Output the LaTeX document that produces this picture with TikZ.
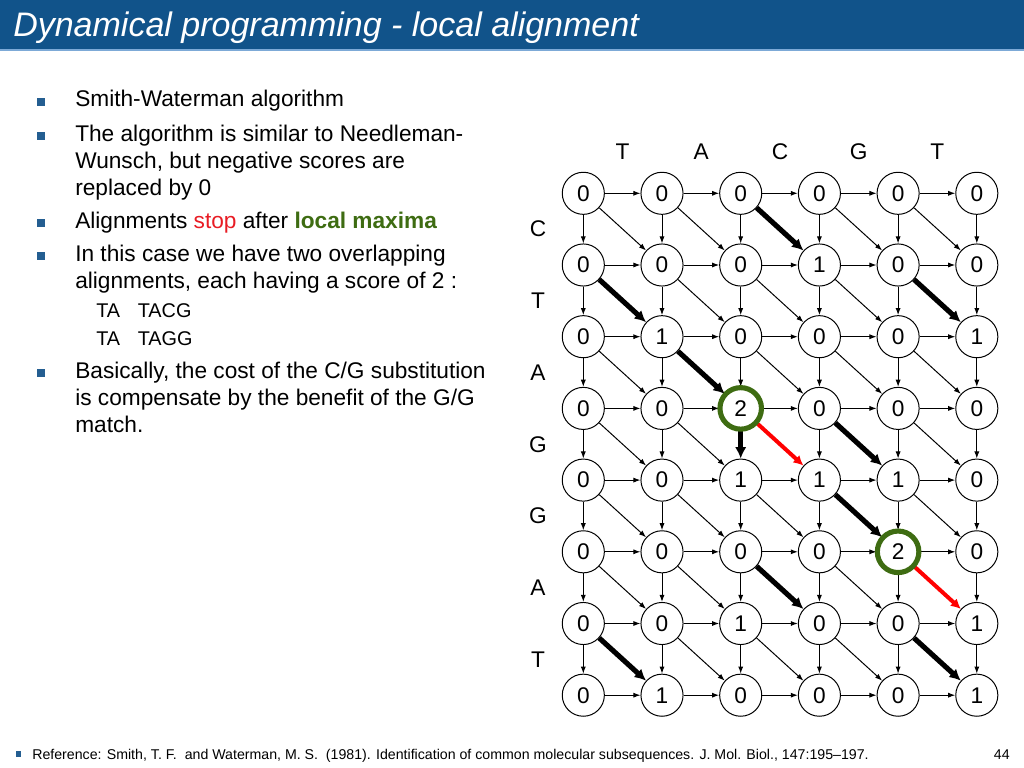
\documentclass[tikz,border=0pt]{standalone}
\usepackage{fontspec}
\setmainfont{Liberation Sans}
\usetikzlibrary{arrows.meta}
\definecolor{TitleClr}{RGB}{17,83,138}
\definecolor{RuleClr}{RGB}{125,170,215}
\definecolor{BulletClr}{RGB}{36,94,145}
\definecolor{StopClr}{RGB}{232,28,36}
\definecolor{MaxClr}{RGB}{62,108,18}

\tikzset{
  cell/.style={circle,draw,line width=.7pt,minimum size=29.6bp,inner sep=0pt,font=\fontsize{16}{16}\selectfont},
  link/.style={line width=.7pt,-{Latex[length=5bp,width=3.6bp]}},
  trace/.style={line width=3.6bp,-{Latex[length=8bp,width=8bp]}},
  stoparr/.style={line width=2.8bp,red,-{Latex[length=7bp,width=7bp]}},
  maxring/.style={draw=MaxClr,line width=3.6bp},
  bullet/.style={fill=BulletClr,minimum size=5.6bp,inner sep=0pt},
  txt/.style={anchor=base west,inner sep=0pt,align=left,font=\fontsize{16}{19}\selectfont},
  seq/.style={font=\fontsize{16}{16}\selectfont},
  % moves on the trace-back paths
  diag 02/.style=trace, diag 10/.style=trace, diag 14/.style=trace,
  diag 21/.style=trace, diag 33/.style=trace, diag 43/.style=trace,
  diag 52/.style=trace, diag 60/.style=trace, diag 64/.style=trace,
  diag 32/.style=stoparr, diag 54/.style=stoparr,
  down 32/.style=trace,
}

\begin{document}
\begin{tikzpicture}[x=0.703125bp,y=-0.703125bp]
\useasboundingbox (0,0) rectangle (1024,768);

% title bar
\fill[TitleClr] (0,0) rectangle (1024,49);
\draw[RuleClr,line width=1.2bp] (0,50) -- (1024,50);
\node[anchor=base west,inner sep=0pt,text=white,font=\fontsize{24}{24}\selectfont\itshape] (title) at (13,37) {Dynamical programming - local alignment};

% bullet list (multi-line nodes sit on their last baseline)
\foreach \y in {102,136,223,256,373} \node[bullet] (b\y) at (41,\y) {};
\node[txt] (i1) at (75,107) {Smith-Waterman algorithm};
\node[txt] (i2) at (75,195) {The algorithm is similar to Needleman-\\Wunsch, but negative scores are\\replaced by 0};
\node[txt] (i3) at (75,228) {Alignments \textcolor{StopClr}{stop} after \textcolor{MaxClr}{\bfseries local maxima}};
\node[txt] (i4) at (75,288) {In this case we have two overlapping\\alignments, each having a score of 2 :};
\node[txt,font=\fontsize{14}{14}\selectfont] (a1) at (96,317) {TA\hspace{12.4bp}TACG};
\node[txt,font=\fontsize{14}{14}\selectfont] (a2) at (96,345) {TA\hspace{12.4bp}TAGG};
\node[txt] (i5) at (75,432) {Basically, the cost of the C/G substitution\\is compensate by the benefit of the G/G\\match.};

% score matrix
\foreach \row [count=\i from 0] in {{0,0,0,0,0,0},{0,0,0,1,0,0},{0,1,0,0,0,1},{0,0,2,0,0,0},{0,0,1,1,1,0},{0,0,0,0,2,0},{0,0,1,0,0,1},{0,1,0,0,0,1}}
  \foreach \val [count=\k from 0] in \row
    \node[cell] (n\i\k) at ({583.3+78.7*\k},{193.3+71.7*\i}) {\val};
\foreach \base [count=\k from 0] in {T,A,C,G,T}
  \node[seq] (top\k) at ({622.6+78.7*\k},152) {\base};
\foreach \base [count=\i from 0] in {C,T,A,G,G,A,T}
  \node[seq] (left\i) at (538,{229.1+71.7*\i}) {\base};

\foreach \i in {0,...,7}
  \foreach \k/\l in {0/1,1/2,2/3,3/4,4/5}
    \draw[link] (n\i\k) -- (n\i\l);
\foreach \i/\j in {0/1,1/2,2/3,3/4,4/5,5/6,6/7} {
  \foreach \k in {0,...,5}
    \draw[link,down \i\k/.try] (n\i\k) -- (n\j\k);
  \foreach \k/\l in {0/1,1/2,2/3,3/4,4/5}
    \draw[link,diag \i\k/.try] (n\i\k) -- (n\j\l);
}
\draw[maxring] (n32) circle[radius=14.6bp];
\draw[maxring] (n54) circle[radius=14.6bp];

% footer
\node[fill=BulletClr,minimum size=3.6bp,inner sep=0pt] (fb) at (18.5,754) {};
\node[anchor=base west,inner sep=0pt,font=\fontsize{10}{10}\selectfont] (ref) at (32,759) {Reference: Smith, T. F.\ \ and Waterman, M. S.\ \ (1981). Identification of common molecular subsequences. J. Mol. Biol., 147:195--197.};
\node[anchor=base east,inner sep=0pt,font=\fontsize{10}{10}\selectfont] (page) at (1010,759) {44};
\end{tikzpicture}
\end{document}
